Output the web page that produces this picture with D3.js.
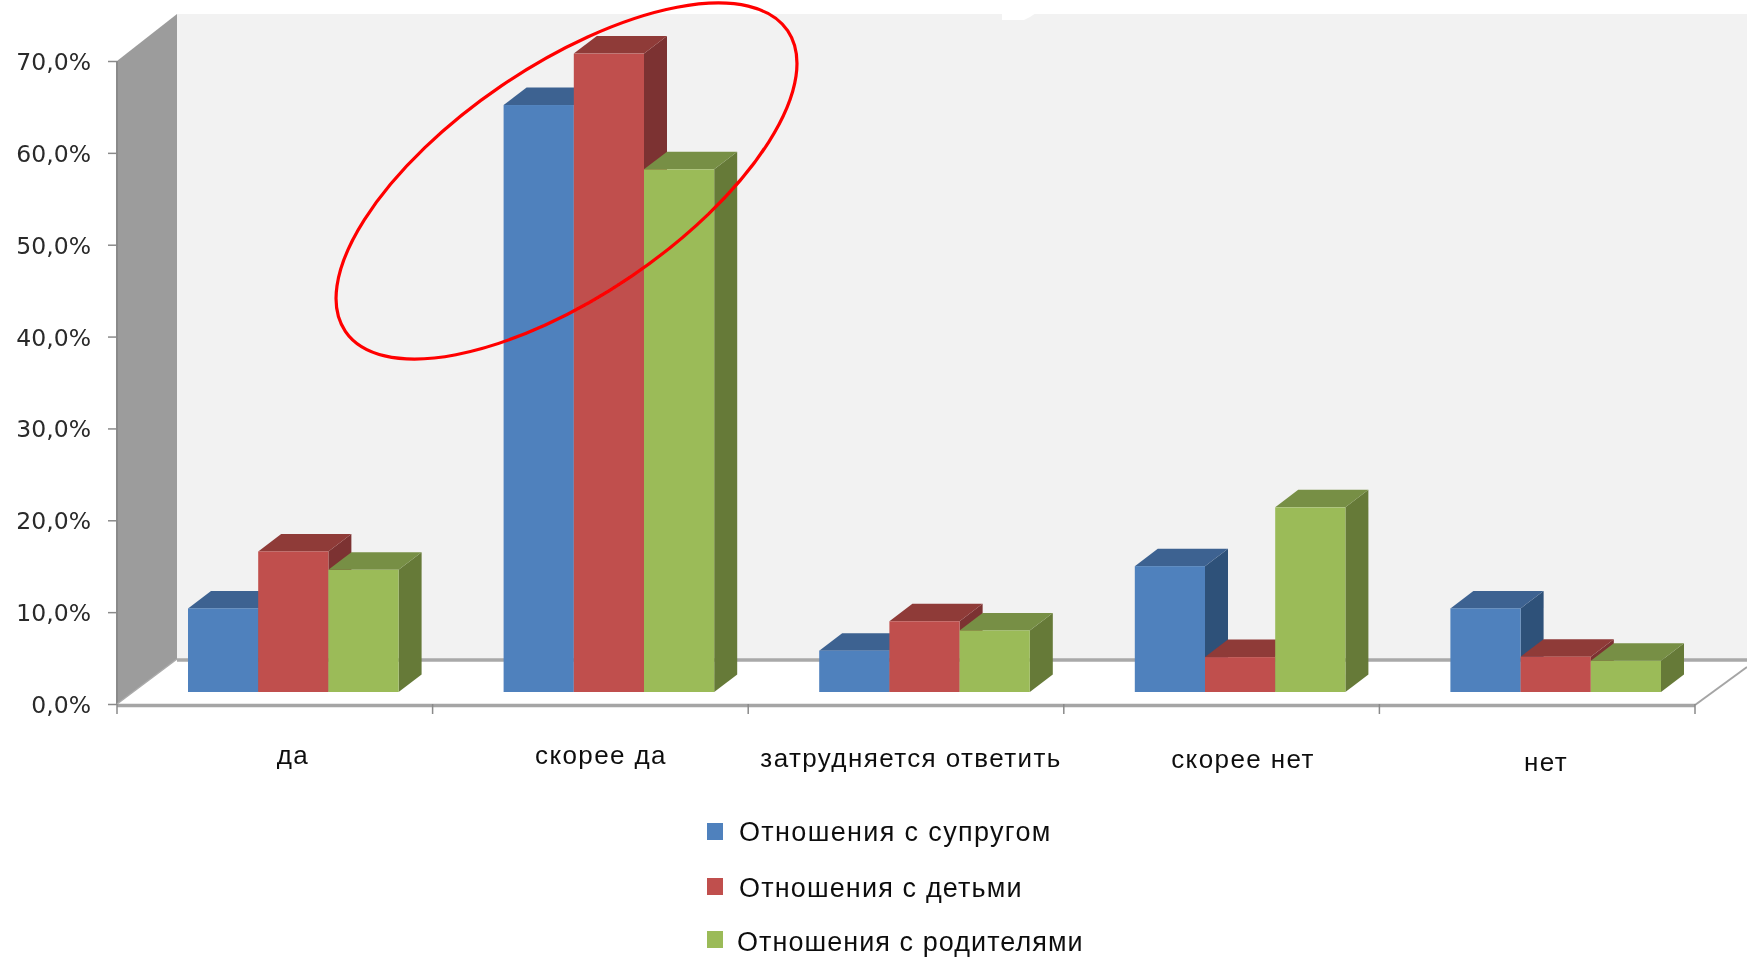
<!DOCTYPE html>
<html><head><meta charset="utf-8">
<script src="https://cdn.jsdelivr.net/npm/d3@7"></script>
<style>html,body{margin:0;padding:0;background:#fff;overflow:hidden}svg{display:block}</style>
</head><body>
<svg id="c" width="1747" height="957"></svg>
<script>
const categories = ["да","скорее да","затрудняется ответить","скорее нет","нет"];
const seriesNames = ["Отношения с супругом","Отношения с детьми","Отношения с родителями"];
const spouse   = [9.1, 63.9, 4.5, 13.7, 9.1];
const children = [15.3, 69.5, 7.7, 3.8, 3.85];
const parents  = [13.3, 56.9, 6.7, 20.1, 3.4];
const yTicks = [0,10,20,30,40,50,60,70];
const series = [spouse, children, parents];
const frontCol = ["#4f81bd","#c0504d","#9bbb59"];
const topCol   = ["#3d6291","#8f3a38","#778f45"];
const sideCol  = ["#2f5179","#7c3230","#667a38"];
// per-label layout of the tilted source picture
const catLabelX = [293,601,911,1243,1546];
const catLabelY = [764,764,767,768,771];
const legendX = [739,739,737];
const legendY = [841,897,951];
const legendBoxY = [823,878,931];
const legendSpacing = [1.35,1.15,1.05];

const svg = d3.select("#c");
const root = svg.append("g").attr("filter","url(#soft)");
svg.append("defs").append("filter").attr("id","soft")
  .attr("filterUnits","userSpaceOnUse").attr("x",0).attr("y",0).attr("width",1747).attr("height",957)
  .append("feGaussianBlur").attr("stdDeviation",0.75);

const axisX0 = 117, axisX1 = 1695, y0 = 704, y70 = 61;
const wallDx = 60, wallDy = 45, wallTop = 14;
const x = d3.scaleBand().domain(categories).range([axisX0,axisX1]);
const y = d3.scaleLinear().domain([0,70]).range([y0,y70]);
const barBase = 692;
const barY = d3.scaleLinear().domain([0,70]).range([barBase,barBase-(y0-y70)]);
const barInset = 71, barW = 70.2, depthX = 23, depthY = 17.5;
const sub = d3.scaleBand().domain([0,1,2]).range([barInset,barInset+3*barW]);

const poly = pts => pts.map(p=>p.join(",")).join(" ");
// back wall, side wall, floor
root.append("rect").attr("x",0).attr("y",0).attr("width",1747).attr("height",957).attr("fill","#fff");
root.append("rect").attr("x",axisX0+wallDx).attr("y",wallTop).attr("width",1747-axisX0-wallDx).attr("height",y0-wallDy-wallTop).attr("fill","#f2f2f2");
root.append("polygon").attr("points",poly([[1002,13],[1028,13],[1036,13],[1030,17],[1024,20],[1002,20]])).attr("fill","#fff");
root.append("polygon").attr("points",poly([[axisX0,y70],[axisX0+wallDx,wallTop],[axisX0+wallDx,y0-wallDy],[axisX0,y0]])).attr("fill","#9c9c9c");
root.append("line").attr("x1",axisX0).attr("x2",axisX0).attr("y1",y70).attr("y2",y0).attr("stroke","#8a8a8a").attr("stroke-width",2);
root.append("line").attr("x1",axisX0+wallDx).attr("x2",1747).attr("y1",y0-wallDy+1).attr("y2",y0-wallDy+1).attr("stroke","#a9a9a9").attr("stroke-width",3.5);
root.append("line").attr("x1",axisX0).attr("y1",y0).attr("x2",axisX0+wallDx).attr("y2",y0-wallDy).attr("stroke","#aaa").attr("stroke-width",1.5);
root.append("line").attr("x1",axisX1).attr("y1",y0+1).attr("x2",1747).attr("y2",y0-37).attr("stroke","#a5a5a5").attr("stroke-width",2);

// axes
const yAxis = root.append("g").attr("transform",`translate(${axisX0},0)`)
  .call(d3.axisLeft(y).tickValues(yTicks).tickSize(9).tickPadding(17).tickFormat(d=>d.toFixed(1).replace(".",",")+"%"));
yAxis.select(".domain").remove();
yAxis.selectAll("line").attr("stroke","#8a8a8a").attr("stroke-width",1.5);
yAxis.selectAll("text").attr("font-family","'DejaVu Sans'").attr("font-size",23.5).attr("fill","#2a2a2a").attr("dy","0.36em");

const xTicks = categories.map(c=>x(c)).concat([axisX1]);
root.append("line").attr("x1",axisX0).attr("x2",axisX1).attr("y1",y0+1.5).attr("y2",y0+1.5).attr("stroke","#a5a5a5").attr("stroke-width",3.5);
root.selectAll(".xt").data(xTicks).join("line").attr("x1",d=>d).attr("x2",d=>d).attr("y1",y0).attr("y2",y0+10).attr("stroke","#8a8a8a").attr("stroke-width",1.5);

// bars
categories.forEach((c,ci)=>{
  series.forEach((s,si)=>{
    const xl = x(c)+sub(si), xr = xl+barW, top = barY(s[ci]);
    const g = root.append("g");
    g.append("polygon").attr("points",poly([[xr,top],[xr+depthX,top-depthY],[xr+depthX,barBase-depthY],[xr,barBase]])).attr("fill",sideCol[si]);
    g.append("polygon").attr("points",poly([[xl,top],[xl+depthX,top-depthY],[xr+depthX,top-depthY],[xr,top]])).attr("fill",topCol[si]);
    g.append("rect").attr("x",xl).attr("y",top).attr("width",barW).attr("height",barBase-top).attr("fill",frontCol[si]);
  });
});

// category labels
root.selectAll(".cat").data(categories).join("text").attr("class","cat")
  .attr("x",(d,i)=>catLabelX[i]).attr("y",(d,i)=>catLabelY[i]).attr("text-anchor","middle")
  .attr("font-family","'Liberation Sans'").attr("font-size",26).attr("letter-spacing",1.4).attr("fill","#111").text(d=>d);

// legend
root.selectAll(".lb").data(seriesNames).join("rect").attr("x",707).attr("y",(d,i)=>legendBoxY[i]).attr("width",16).attr("height",17).attr("fill",(d,i)=>frontCol[i]);
root.selectAll(".lt").data(seriesNames).join("text")
  .attr("x",(d,i)=>legendX[i]).attr("y",(d,i)=>legendY[i])
  .attr("font-family","'Liberation Sans'").attr("font-size",27).attr("letter-spacing",(d,i)=>legendSpacing[i]).attr("fill","#111").text(d=>d);

// red annotation ellipse
root.append("ellipse").attr("cx",0).attr("cy",0).attr("rx",267.4).attr("ry",115.3)
  .attr("transform","translate(566.5,181) rotate(-34.2)").attr("fill","none").attr("stroke","#f00").attr("stroke-width",3.2);
</script>
</body></html>
